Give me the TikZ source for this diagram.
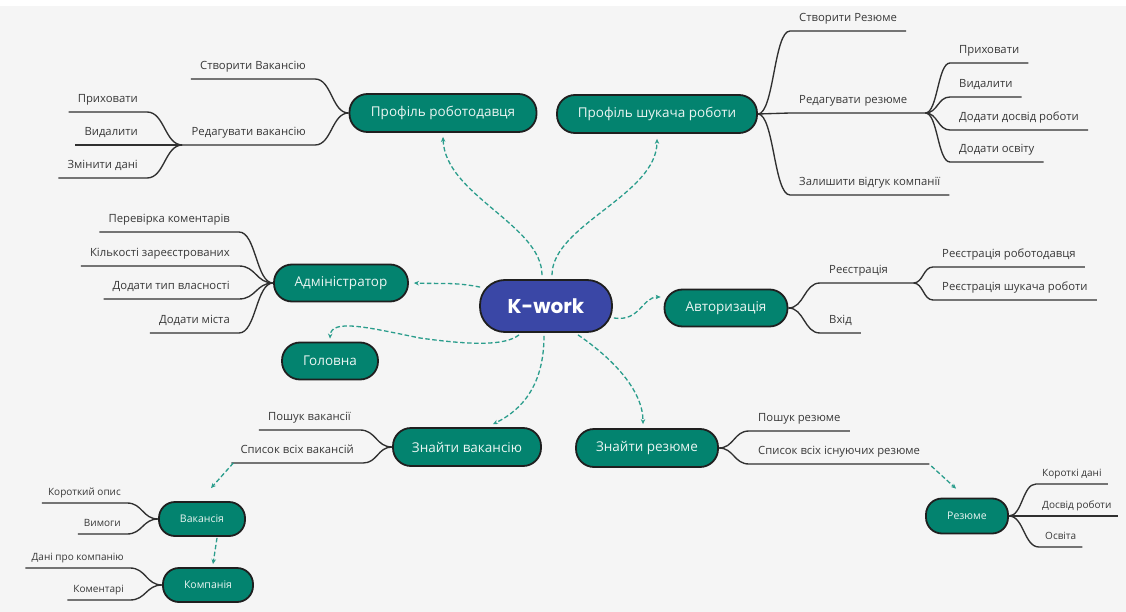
\documentclass[tikz,border=0pt]{standalone}
\usepackage{fontspec}
\setmainfont{Open Sans}
\newfontfamily\kwfont{Poppins}
\usetikzlibrary{arrows.meta,calc}
\definecolor{teal1}{HTML}{03836F}
\definecolor{kblue}{HTML}{3A47A6}
\definecolor{dteal}{HTML}{2A9D8C}
\definecolor{linec}{HTML}{303030}
\definecolor{bgc}{HTML}{F5F5F5}
\definecolor{txt}{HTML}{383838}
\definecolor{ntxt}{HTML}{EAF5F2}
\begin{document}
\begin{tikzpicture}[x=1pt,y=-1pt,
  mn/.style={draw=black!88, line width=1.8pt, fill=teal1, text=ntxt,
    font=\fontsize{13.5}{16}\selectfont, rounded corners=18pt,
    minimum height=38pt, inner sep=0pt},
  sn/.style={mn, font=\fontsize{10.5}{12}\selectfont, rounded corners=16pt, minimum height=34pt},
  kwn/.style={draw=black!88, line width=1.8pt, fill=kblue, text=white,
    font=\kwfont\bfseries\fontsize{20}{24}\selectfont, rounded corners=25pt,
    minimum width=132pt, minimum height=52pt, inner sep=0pt},
  lf/.style={font=\fontsize{11.3}{13}\selectfont, text=txt, inner xsep=9pt, inner ysep=6pt,
    text height=8pt, text depth=3pt},
  sl/.style={lf, font=\fontsize{10}{12}\selectfont, inner xsep=6pt, inner ysep=5pt,
    text height=7pt, text depth=2.5pt},
  L/.style={anchor=south east},
  R/.style={anchor=south west},
  sc/.style={to path={.. controls ($(\tikztostart)!0.5!(\tikztotarget |- \tikztostart)$)
    and ($(\tikztotarget)!0.5!(\tikztostart |- \tikztotarget)$) .. (\tikztotarget)}},
  br/.style={draw=linec, line width=1.35pt, sc},
  dc/.style={draw=dteal, line width=1.3pt, dash pattern=on 4.5pt off 2.5pt,
    -{Stealth[length=5pt,width=4.5pt]}},
]
\useasboundingbox (0,0) rectangle (1126,612);
\fill[bgc] (0,0) rectangle (1126,612);
\fill[white] (0,0) rectangle (1126,6);

% main nodes
\node[kwn] (kw) at (546,306) {K-work};
\node[mn, minimum width=187pt] (emp) at (443,113) {Профіль роботодавця};
\node[mn, minimum width=200pt] (seek) at (657,114) {Профіль шукача роботи};
\node[mn, minimum width=134pt, minimum height=37pt] (adm) at (341,283) {Адміністратор};
\node[mn, minimum width=96pt, minimum height=37pt] (home) at (330,361) {Головна};
\node[mn, minimum width=123pt, minimum height=37pt] (auth) at (726,308) {Авторизація};
\node[mn, minimum width=148pt] (fvac) at (467,447) {Знайти вакансію};
\node[mn, minimum width=142pt] (fres) at (647,448) {Знайти резюме};
\node[sn, minimum width=86pt] (vacn) at (202,519) {Вакансія};
\node[sn, minimum width=90pt] (comp) at (208,585) {Компанія};
\node[sn, minimum width=82pt, minimum height=35pt] (resn) at (967,516) {Резюме};

% employer profile
\node[lf, L] (e1) at (315,79) {Створити Вакансію};
\node[lf, L] (e2) at (315,145) {Редагувати вакансію};
\node[lf, L] (e21) at (147,112) {Приховати};
\node[lf, L] (e22) at (147,145) {Видалити};
\node[lf, L] (e23) at (147,178) {Змінити дані};
\draw[br] (emp.west) to (e1.south east) -- (e1.south west);
\draw[br] (emp.west) to (e2.south east) -- (e2.south west);
\draw[br] (e2.south west) to (e21.south east) -- (e21.south west);
\draw[br] (e2.south west) to (e22.south east) -- (e22.south west);
\draw[br] (e2.south west) to (e23.south east) -- (e23.south west);

% seeker profile
\node[lf, R] (s1) at (790,31) {Створити Резюме};
\node[lf, R, text width=117pt, align=left] (s2) at (790,113) {Редагувати резюме};
\node[lf, R] (s3) at (790,195) {Залишити відгук компанії};
\node[lf, R] (s21) at (950,63) {Приховати};
\node[lf, R] (s22) at (950,97) {Видалити};
\node[lf, R] (s23) at (950,130) {Додати досвід роботи};
\node[lf, R] (s24) at (950,162) {Додати освіту};
\draw[br] (seek.east) to (s1.south west) -- (s1.south east);
\draw[br] (seek.east) to (s2.south west) -- (s2.south east);
\draw[br] (seek.east) to (s3.south west) -- (s3.south east);
\draw[br] (s2.south east) to (s21.south west) -- (s21.south east);
\draw[br] (s2.south east) to (s22.south west) -- (s22.south east);
\draw[br] (s2.south east) to (s23.south west) -- (s23.south east);
\draw[br] (s2.south east) to (s24.south west) -- (s24.south east);

% administrator
\node[lf, L] (a1) at (239,232) {Перевірка коментарів};
\node[lf, L] (a2) at (239,266) {Кількості зареєстрованих};
\node[lf, L] (a3) at (239,299) {Додати тип власності};
\node[lf, L] (a4) at (239,333) {Додати міста};
\draw[br] (adm.west) to (a1.south east) -- (a1.south west);
\draw[br] (adm.west) to (a2.south east) -- (a2.south west);
\draw[br] (adm.west) to (a3.south east) -- (a3.south west);
\draw[br] (adm.west) to (a4.south east) -- (a4.south west);

% authorization
\node[lf, R, text width=75pt, align=left] (r1) at (820,283) {Реєстрація};
\node[lf, R] (r2) at (820,333) {Вхід};
\node[lf, R] (r11) at (933,267) {Реєстрація роботодавця};
\node[lf, R] (r12) at (933,300) {Реєстрація шукача роботи};
\draw[br] (auth.east) to (r1.south west) -- (r1.south east);
\draw[br] (auth.east) to (r2.south west) -- (r2.south east);
\draw[br] (r1.south east) to (r11.south west) -- (r11.south east);
\draw[br] (r1.south east) to (r12.south west) -- (r12.south east);

% find vacancy
\node[lf, L] (v1) at (360,430) {Пошук вакансії};
\node[lf, L] (v2) at (363,463) {Список всіх вакансій};
\draw[br] (fvac.west) to (v1.south east) -- (v1.south west);
\draw[br] (fvac.west) to (v2.south east) -- (v2.south west);

% find resume
\node[lf, R] (q1) at (749,431) {Пошук резюме};
\node[lf, R] (q2) at (749,464) {Список всіх існуючих резюме};
\draw[br] (fres.east) to (q1.south west) -- (q1.south east);
\draw[br] (fres.east) to (q2.south west) -- (q2.south east);

% vacancy
\node[sl, L] (k1) at (127,503) {Короткий опис};
\node[sl, L] (k2) at (127,534) {Вимоги};
\draw[br] (vacn.west) to (k1.south east) -- (k1.south west);
\draw[br] (vacn.west) to (k2.south east) -- (k2.south west);

% company
\node[sl, L] (c1) at (130,568) {Дані про компанію};
\node[sl, L] (c2) at (130,600) {Коментарі};
\draw[br] (comp.west) to (c1.south east) -- (c1.south west);
\draw[br] (comp.west) to (c2.south east) -- (c2.south west);

% resume
\node[sl, R] (m1) at (1036,484) {Короткі дані};
\node[sl, R] (m2) at (1036,516) {Досвід роботи};
\node[sl, R] (m3) at (1039,547) {Освіта};
\draw[br] (resn.east) to (m1.south west) -- (m1.south east);
\draw[br] (resn.east) to (m2.south west) -- (m2.south east);
\draw[br] (resn.east) to (m3.south west) -- (m3.south east);

% dashed connectors
\draw[dc] ([xshift=-4pt,yshift=4pt]kw.north) .. controls (542,225) and (445,195) .. ([yshift=-4pt]emp.south);
\draw[dc] ([xshift=6pt,yshift=4pt]kw.north) .. controls (552,225) and (657,195) .. ([yshift=-5pt]seek.south);
\draw[dc] ([xshift=1pt,yshift=-8pt]kw.north west) .. controls (455,282) and (440,284) .. ([xshift=5pt]adm.east);
\draw[dc] ([xshift=-27pt,yshift=-2pt]kw.south) .. controls (505,346) and (470,345) .. (420,338)
  .. controls (370,328) and (331,318) .. ([yshift=3pt]home.north);
\draw[dc] ([xshift=1pt,yshift=-12pt]kw.east) .. controls (640,322) and (642,297) .. ([xshift=-3pt,yshift=11pt]auth.west);
\draw[dc] ([xshift=-2pt,yshift=-3pt]kw.south) .. controls (544,385) and (522,410) .. ([xshift=26pt,yshift=3pt]fvac.north);
\draw[dc] ([xshift=32pt,yshift=-2pt]kw.south) .. controls (612,358) and (643,390) .. ([xshift=-4pt,yshift=4pt]fres.north);
\draw[dc] ([xshift=2pt]v2.south west) -- ([xshift=9pt,yshift=13pt]vacn.north);
\draw[dc] ([xshift=15pt,yshift=-1pt]vacn.south) -- ([xshift=5pt,yshift=3pt]comp.north);
\draw[dc] ([xshift=2pt,yshift=-2pt]q2.south east) -- ([xshift=-11pt,yshift=9pt]resn.north);
\end{tikzpicture}
\end{document}
